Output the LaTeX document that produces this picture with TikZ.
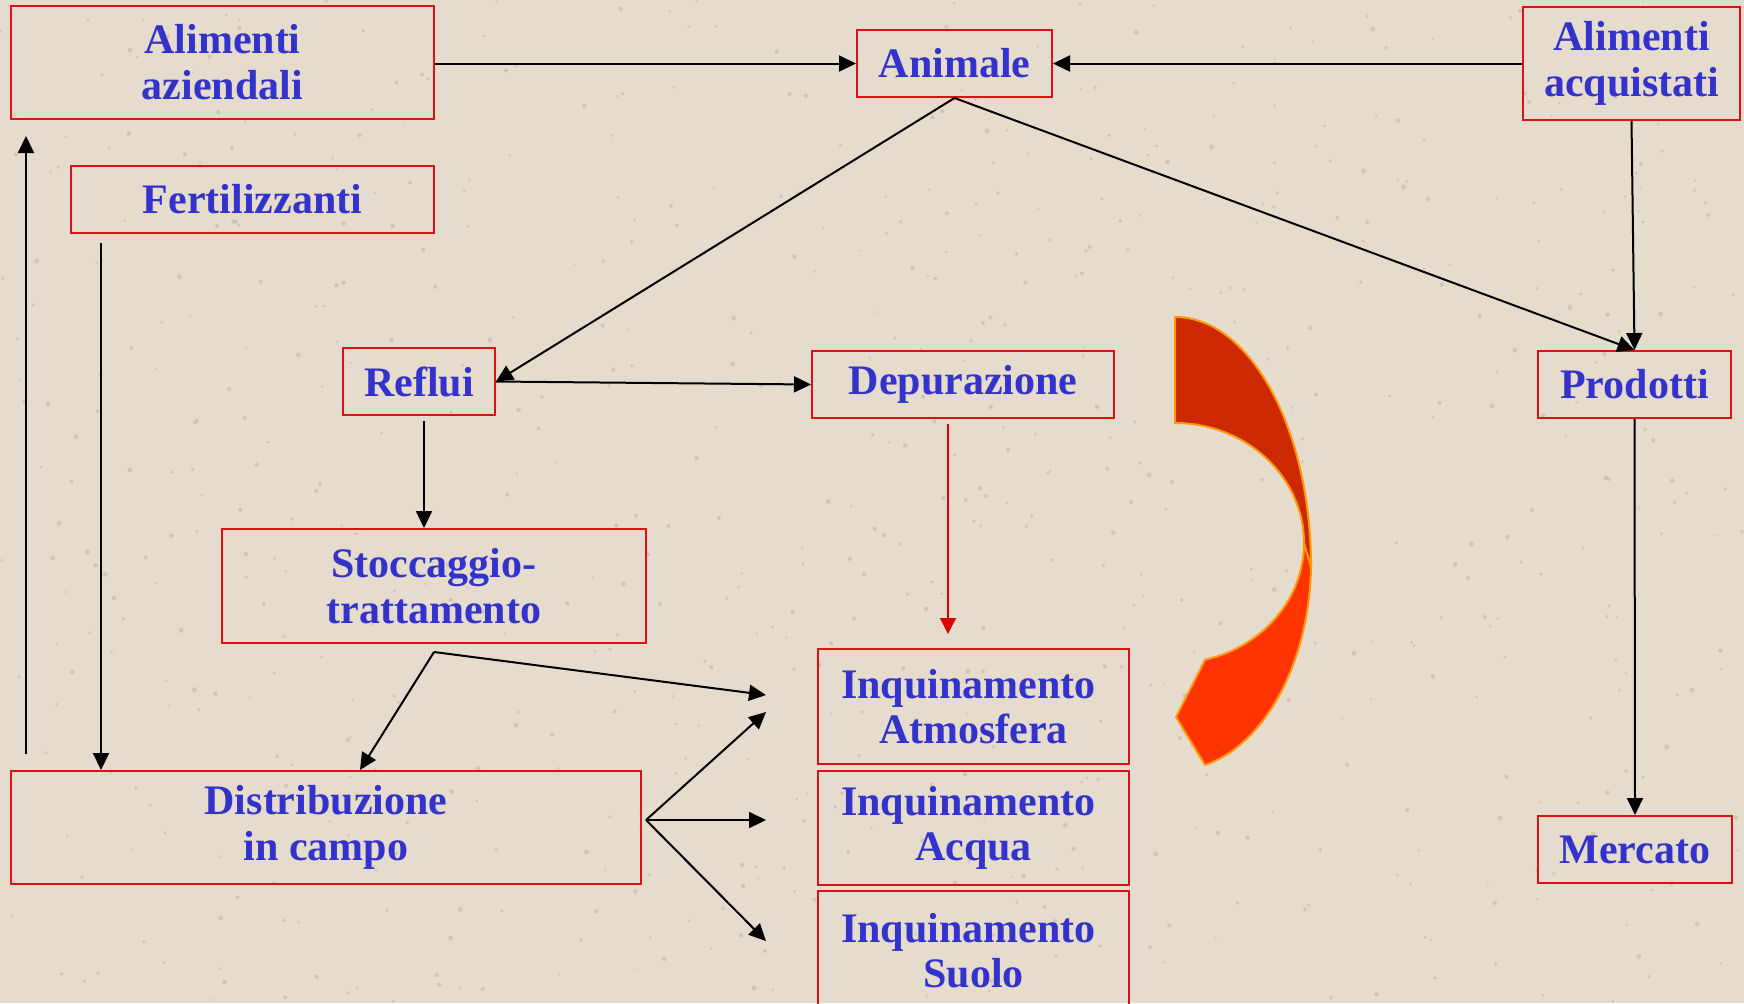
\documentclass[tikz,border=0pt]{standalone}
\usepackage{fontspec}
\setmainfont{Liberation Serif}
\usetikzlibrary{arrows.meta}
\definecolor{paper}{HTML}{E5DCCD}
\definecolor{speck}{HTML}{A89F92}
\definecolor{boxred}{HTML}{DD1111}
\definecolor{txtblue}{HTML}{3333CC}
\definecolor{ribbonback}{HTML}{CC2900}
\definecolor{ribbonfront}{HTML}{FF3300}
\definecolor{ribbonedge}{HTML}{FF9900}
\definecolor{flowred}{HTML}{DD0000}
\begin{document}
\begin{tikzpicture}[x=0.5pt,y=-0.5pt,
  box/.style={draw=boxred, line width=1pt, inner sep=0pt, align=center,
    text=txtblue, font=\fontsize{21}{22.8}\selectfont\bfseries},
  conn/.style={draw=black, line width=1pt, -{Triangle[length=8.5pt,width=8pt]}},
  redconn/.style={draw=flowred, line width=0.7pt, -{Triangle[length=8pt,width=8pt]}},
  ribbon/.style={draw=ribbonedge, line width=1pt, line join=round}]

% paper background with faint specks
\fill[paper] (0,0) rectangle (1744,1003);
\useasboundingbox (0,0) rectangle (1744,1003);
\clip (0,0) rectangle (1744,1003);
\pgfmathsetseed{4217}
\foreach \k in {1,...,700}{
  \fill[speck, opacity=0.35] (1744*rnd,1003*rnd) circle[radius=0.6pt+0.6pt*rnd];
}

% boxes
\node[box, minimum width=211.5pt, minimum height=56.5pt] (aziendali) at (222.5,62) {Alimenti\\aziendali};
\node[box, minimum width=181.5pt, minimum height=33.5pt] (fert) at (252.5,199.5) {Fertilizzanti};
\node[box, minimum width=97.5pt, minimum height=33.5pt] (animale) at (954.5,63.5) {Animale};
\node[box, minimum width=108.5pt, minimum height=56.5pt] (acquistati) at (1631.5,63.5) {Alimenti\\acquistati};
\node[box, minimum width=76pt, minimum height=33.5pt] (reflui) at (419,381.5) {Reflui};
\node[box, minimum width=151pt, minimum height=33.5pt] (depurazione) at (963,384.5) {Depurazione};
\node[box, minimum width=96.5pt, minimum height=33.5pt] (prodotti) at (1634.5,384.5) {Prodotti};
\node[box, minimum width=212pt, minimum height=57pt] (stoccaggio) at (434,586) {Stoccaggio-\\trattamento};
\node[box, minimum width=155.5pt, minimum height=57.5pt] (atmo) at (973.5,706.5) {Inquinamento\kern5pt\\Atmosfera};
\node[box, minimum width=155.5pt, minimum height=57pt] (acqua) at (973.5,828) {Inquinamento\kern5pt\\Acqua};
\node[box, minimum width=155.5pt, minimum height=59.5pt] (suolo) at (973.5,950.5) {Inquinamento\kern5pt\\Suolo};
\node[box, minimum width=315pt, minimum height=56.5pt] (distribuzione) at (326,827.5) {Distribuzione\\in campo};
\node[box, minimum width=97pt, minimum height=33.5pt] (mercato) at (1635,849.5) {Mercato};

% free ends of connectors
\coordinate (rs) at ([xshift=2.5pt,yshift=-2.5pt]reflui.south);
\coordinate (dtop) at ([xshift=-7.5pt,yshift=-2.5pt]depurazione.south);
\coordinate (dend) at (948,634);
\coordinate (sfork) at ([yshift=-4pt]stoccaggio.south);
\coordinate (satmo) at (766,695);
\coordinate (fdrop) at (101,243);
\coordinate (lbase) at (26,754);
\coordinate (ltip) at (26,136);
\coordinate (dfork) at (646,820);
\coordinate (datmo) at (766,712);
\coordinate (dacqua) at (766,820);
\coordinate (dsuolo) at (766,941);

% connectors
\draw[conn] ([yshift=-0.75pt]aziendali.east) -- (animale.west);
\draw[conn] (acquistati.west) -- (animale.east);
\draw[conn] (animale.south) -- (reflui.east);
\draw[conn] (animale.south) -- (prodotti.north);
\draw[conn] (acquistati.south) -- (prodotti.north);
\draw[conn] (reflui.east) -- (depurazione.west);
\draw[conn] (rs) -- (rs |- stoccaggio.north);
\draw[redconn] (dtop) -- (dend);
\draw[conn] (sfork) -- ([xshift=17pt]distribuzione.north);
\draw[conn] (sfork) -- (satmo);
\draw[conn] (fdrop) -- (fdrop |- distribuzione.north);
\draw[conn] (lbase) -- (ltip);
\draw[conn] (dfork) -- (datmo);
\draw[conn] (dfork) -- (dacqua);
\draw[conn] (dfork) -- (dsuolo);
\draw[conn] (prodotti.south) -- (mercato.north);

% curved ribbon arrow: front part first, back part over it
\filldraw[ribbon, fill=ribbonfront] (1304,543)
  arc[start angle=0, end angle=-76.5, x radius=64.5pt, y radius=60pt]
  -- (1176,717) -- (1205,765)
  arc[start angle=-77.3, end angle=0, x radius=68pt, y radius=105pt]
  -- cycle;
\filldraw[ribbon, fill=ribbonback] (1175,317)
  arc[start angle=90, end angle=0, x radius=68pt, y radius=125pt]
  -- (1304,543)
  arc[start angle=0, end angle=90, x radius=64.5pt, y radius=60pt]
  -- cycle;
\end{tikzpicture}
\end{document}
